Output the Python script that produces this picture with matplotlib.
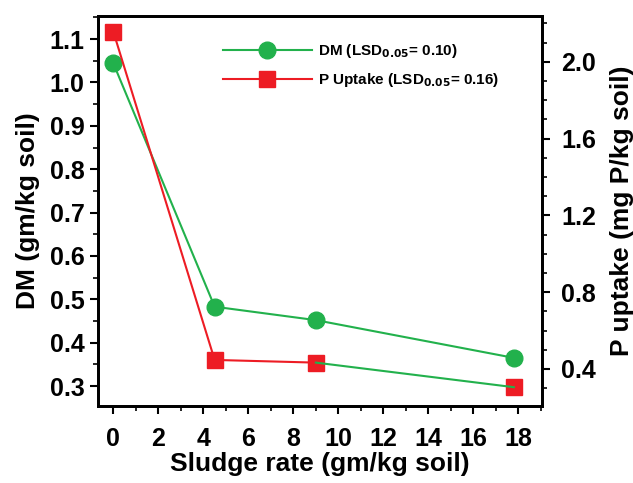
import matplotlib
matplotlib.use("Agg")
import matplotlib.pyplot as plt
from matplotlib.lines import Line2D
from matplotlib.ticker import MultipleLocator, FormatStrFormatter

plt.rcParams['font.family'] = ['Liberation Sans', 'DejaVu Sans']
plt.rcParams['font.weight'] = 'bold'

# data
sludge = [0, 4.5, 9, 17.8]
dm = [1.044, 0.483, 0.452, 0.365]
p_uptake = [2.156, 0.447, 0.433, 0.305]

GREEN = '#22b14c'
RED = '#ed1c24'

fig = plt.figure(figsize=(6.33, 4.83), dpi=100)
ax = fig.add_axes([0.1553, 0.1594, 0.7010, 0.8081])
ax2 = ax.twinx()

# DM on left axis
ax.plot(sludge, dm, color=GREEN, lw=1.5, marker='o', ms=12,
        markeredgecolor=GREEN, zorder=3)

# P uptake on right axis (last segment is green in the original)
ax2.plot(sludge[:3], p_uptake[:3], color=RED, lw=1.5, zorder=2)
ax2.plot(sludge, p_uptake, color=RED, lw=0, marker='s', ms=11,
         markeredgecolor=RED, zorder=3)
ax2.plot(sludge[2:], p_uptake[2:], color=GREEN, lw=1.5, zorder=4)

ax.set_xlim(-0.67, 19.05)
ax.set_ylim(0.254, 1.154)
ax2.set_ylim(0.207, 2.24)

ax.xaxis.set_major_locator(MultipleLocator(2))
ax.xaxis.set_minor_locator(MultipleLocator(1))
ax.yaxis.set_major_locator(MultipleLocator(0.1))
ax.yaxis.set_minor_locator(MultipleLocator(0.05))
ax2.yaxis.set_major_locator(MultipleLocator(0.4))
ax2.yaxis.set_minor_locator(MultipleLocator(0.1))
ax.yaxis.set_major_formatter(FormatStrFormatter('%.1f'))
ax2.yaxis.set_major_formatter(FormatStrFormatter('%.1f'))

for a in (ax, ax2):
    for s in a.spines.values():
        s.set_linewidth(2)
    a.tick_params(which='major', direction='out', length=6, width=1.5,
                  labelsize=18, pad=4)
    a.tick_params(which='minor', direction='out', length=3.5, width=1.2)
ax.tick_params(top=False, which='both')
ax.tick_params(axis='x', which='major', pad=9)
ax2.tick_params(axis='y', which='major', pad=8)

ax.set_xlabel('Sludge rate (gm/kg soil)', fontsize=19, fontweight='bold', labelpad=1)
ax.set_ylabel('DM (gm/kg soil)', fontsize=19, fontweight='bold', labelpad=7)
ax2.set_ylabel('P uptake (mg P/kg soil)', fontsize=19, fontweight='bold', labelpad=10)

handles = [
    Line2D([], [], color=GREEN, lw=1.5, marker='o', ms=12, markeredgecolor=GREEN),
    Line2D([], [], color=RED, lw=1.5, marker='s', ms=11, markeredgecolor=RED),
]
labels = ['DM (LSD$_{\\mathbf{0.05}}$= 0.10)', 'P Uptake (LSD$_{\\mathbf{0.05}}$= 0.16)']
ax.legend(handles, labels, loc='upper left', bbox_to_anchor=(0.25, 0.968),
          frameon=False, handlelength=5.8, handletextpad=0.4,
          prop={'weight': 'bold', 'size': 11}, labelspacing=0.75)

fig.savefig('out.png', dpi=100)
